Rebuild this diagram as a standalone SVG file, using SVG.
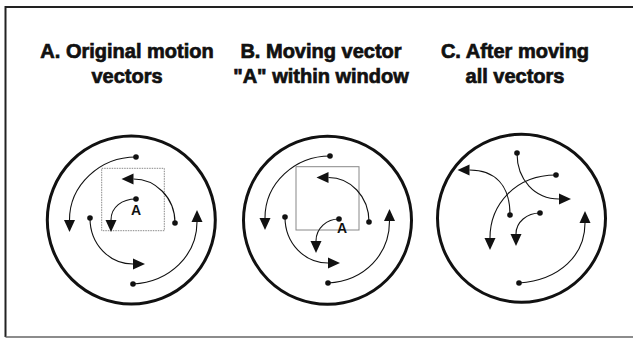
<svg xmlns="http://www.w3.org/2000/svg" width="633" height="339" viewBox="0 0 633 339">
<style>
.title{font-family:"Liberation Sans",Arial,sans-serif;font-weight:bold;font-size:20px;fill:#111;stroke:#111;stroke-width:0.7;text-anchor:middle}
.lbl{font-family:"Liberation Sans",Arial,sans-serif;font-weight:bold;font-size:14px;fill:#111;text-anchor:middle}
.ring{fill:none;stroke:#111;stroke-width:3}
.win{fill:none;stroke:#888;stroke-width:1}
.vec{fill:none;stroke:#111;stroke-width:1.1;marker-start:url(#dot);marker-end:url(#head)}
</style>
<defs>
<marker id="head" markerUnits="userSpaceOnUse" markerWidth="13" markerHeight="12" refX="0" refY="5.5" orient="auto" overflow="visible">
<path d="M0,0 L12,5.5 L0,11 Z" fill="#111"/>
</marker>
<marker id="dot" markerUnits="userSpaceOnUse" markerWidth="8" markerHeight="8" refX="4" refY="4" overflow="visible">
<circle cx="4" cy="4" r="2.8" fill="#111"/>
</marker>
</defs>
<rect width="633" height="339" fill="#fff"/>
<g id="frame">
<path d="M633,7 L5.5,7 L5.5,337" fill="none" stroke="#222" stroke-width="2"/>
<path d="M5.5,337 L633,337" fill="none" stroke="#666" stroke-width="1.5"/>
</g>
<g id="panel-a">
<text class="title" x="127" y="58">A. Original motion</text>
<text class="title" x="127" y="83">vectors</text>
<circle class="ring" cx="131.3" cy="220" r="84"/>
<rect class="win" x="101.7" y="168.3" width="62.6" height="62.4" stroke-dasharray="1.5 1"/>
<text class="lbl" x="136" y="215">A</text>
</g>
<g id="panel-b">
<text class="title" x="321" y="58">B. Moving vector</text>
<text class="title" x="321" y="83">"A" within window</text>
<circle class="ring" cx="327.5" cy="220.3" r="84"/>
<rect class="win" x="296" y="166.7" width="63" height="63.3"/>
<text class="lbl" x="342" y="233">A</text>
</g>
<g id="panel-c">
<text class="title" x="515" y="58">C. After moving</text>
<text class="title" x="515" y="83">all vectors</text>
<circle class="ring" cx="521.5" cy="218.3" r="84"/>
</g>
<g id="connectors">
<path class="vec" d="M136,157 C100,157 69.5,185 69.5,220"/>
<path class="vec" d="M175,223 C175,197 155,179 133.5,179"/>
<path class="vec" d="M136,199 C122,199 111,207 111,220"/>
<path class="vec" d="M90,218 C90,245 110,264 133,264"/>
<path class="vec" d="M133,284 C170,282 197,255 197,222"/>

<path class="vec" d="M330,156 C295,156 265,183 265,218"/>
<path class="vec" d="M369,222 C369,196 350,177.5 328.5,177.5"/>
<path class="vec" d="M339,219 C327,219 316,228 316,241"/>
<path class="vec" d="M285,217 C285,244 305,263 328,263"/>
<path class="vec" d="M328,283 C365,281 389.5,254 389.5,221"/>

<path class="vec" d="M517,153 C517,180 535,199 559,199"/>
<path class="vec" d="M556,175 C515,175 490,205 490,238"/>
<path class="vec" d="M510,215 C510,185 495,170 469.5,170"/>
<path class="vec" d="M540,213 C527,213 516,222 516,234"/>
<path class="vec" d="M519,283 C560,280 585,255 585,223"/>
</g>
</svg>
